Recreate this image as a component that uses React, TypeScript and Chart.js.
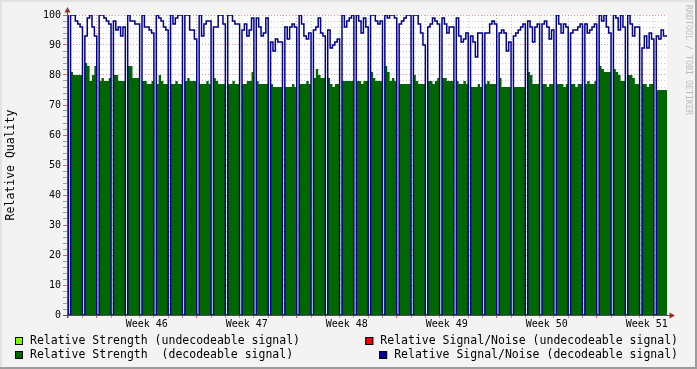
import React, { useEffect, useRef } from 'react';
import { Chart, registerables } from 'chart.js';

Chart.register(...registerables);

// ---- time axis (hours relative to Monday 00:00 of week 46) ----
const AXIS_START_HOUR = -50;
const AXIS_END_HOUR = 958;
const FIRST_SAMPLE_HOUR = -52;
const SAMPLE_HOURS = 4;

const weekLabels = ['Week 46', 'Week 47', 'Week 48', 'Week 49', 'Week 50', 'Week 51'];
const weekLabelHours = [84, 252, 420, 588, 756, 924];
const weekBoundaryHours = [0, 168, 336, 504, 672, 840];
const dayLineHours = [
  -48, -24, 0, 24, 48, 72, 96, 120, 144, 168, 192, 216, 240, 264, 288, 312, 336, 360, 384, 408, 432,
  456, 480, 504, 528, 552, 576, 600, 624, 648, 672, 696, 720, 744, 768, 792, 816, 840, 864, 888, 912, 936,
];

// ---- value axis ----
const yMin = 0;
const yMax = 100;
const yMinorStep = 2;
const yLabelStep = 10;

// ---- legend / series names ----
const seriesLabels = [
  'Relative Strength (undecodeable signal)',
  'Relative Strength  (decodeable signal)',
  'Relative Signal/Noise (undecodeable signal)',
  'Relative Signal/Noise (decodeable signal)',
];
const seriesColors = ['#80FF00', '#006600', '#FF0000', '#000099'];

// ---- data: 4-hour samples; first value is the partial sample before the first midnight,
// then one row per day: [midnight outage, 5 samples]
const strengthDecodeable = [
  80,
  0, 81, 80, 80, 80, 80,
  0, 84, 83, 78, 80, 83,
  0, 78, 79, 78, 78, 79,
  0, 80, 80, 78, 78, 78,
  0, 83, 83, 79, 79, 79,
  0, 78, 78, 77, 77, 78,
  0, 77, 80, 78, 77, 77,
  0, 77, 77, 78, 77, 77,
  0, 78, 79, 78, 78, 78,
  0, 77, 77, 77, 78, 77,
  0, 79, 78, 77, 77, 77,
  0, 77, 77, 78, 77, 77,
  0, 77, 77, 78, 78, 81,
  0, 78, 77, 77, 77, 77,
  0, 77, 76, 76, 76, 76,
  0, 76, 76, 76, 77, 76,
  0, 77, 77, 77, 78, 77,
  0, 79, 82, 80, 79, 79,
  0, 79, 77, 76, 77, 77,
  0, 78, 78, 78, 78, 78,
  0, 78, 78, 77, 78, 78,
  0, 81, 79, 78, 78, 78,
  0, 83, 81, 78, 79, 78,
  0, 77, 77, 77, 77, 77,
  0, 80, 78, 77, 77, 77,
  0, 78, 78, 77, 78, 79,
  0, 79, 79, 78, 78, 78,
  0, 78, 77, 77, 78, 77,
  0, 76, 76, 76, 77, 76,
  0, 77, 78, 77, 77, 77,
  0, 79, 76, 76, 76, 76,
  0, 76, 76, 76, 76, 76,
  0, 81, 80, 77, 77, 77,
  0, 77, 77, 76, 77, 77,
  0, 77, 77, 77, 76, 77,
  0, 77, 77, 76, 77, 77,
  0, 77, 78, 77, 77, 78,
  0, 83, 82, 81, 81, 81,
  0, 82, 81, 80, 78, 78,
  0, 80, 80, 79, 77, 77,
  0, 77, 77, 76, 77, 77,
  0, 75, 75, 75, 75, 75,
];

const snrDecodeable = [
  100,
  0, 100, 100, 98, 97, 96,
  0, 93, 99, 100, 96, 93,
  0, 100, 100, 99, 98, 97,
  0, 98, 95, 96, 93, 96,
  0, 100, 98, 98, 97, 97,
  0, 100, 96, 96, 95, 94,
  0, 100, 99, 98, 96, 95,
  0, 100, 97, 99, 100, 100,
  0, 100, 100, 95, 95, 92,
  0, 100, 93, 97, 98, 98,
  0, 96, 96, 100, 100, 97,
  0, 100, 100, 98, 97, 97,
  0, 95, 97, 93, 95, 99,
  0, 99, 96, 93, 94, 99,
  0, 91, 88, 92, 91, 91,
  0, 96, 92, 96, 97, 96,
  0, 100, 97, 93, 92, 94,
  0, 95, 96, 99, 94, 93,
  0, 95, 89, 90, 91, 92,
  0, 100, 96, 98, 99, 100,
  0, 100, 98, 94, 99, 96,
  0, 100, 100, 98, 97, 98,
  0, 100, 99, 100, 100, 99,
  0, 97, 98, 99, 100, 100,
  0, 100, 100, 97, 94, 90,
  0, 96, 97, 99, 98, 97,
  0, 99, 97, 94, 96, 96,
  0, 99, 93, 91, 92, 94,
  0, 93, 91, 86, 94, 94,
  0, 94, 94, 97, 98, 97,
  0, 94, 95, 94, 88, 91,
  0, 93, 94, 95, 96, 97,
  0, 98, 96, 91, 96, 97,
  0, 97, 98, 96, 92, 95,
  0, 100, 97, 94, 97, 96,
  0, 94, 95, 95, 96, 97,
  0, 97, 94, 95, 96, 97,
  0, 100, 98, 100, 96, 94,
  0, 100, 99, 95, 100, 96,
  0, 100, 97, 93, 96, 96,
  0, 89, 93, 89, 94, 92,
  0, 93, 92, 95, 93, 93,
];

const FONT = 'DejaVu Sans Mono';
const GRID_GRAY = 'rgba(140,140,140,0.45)';
const GRID_RED = 'rgba(222,48,48,0.5)';
const SNR_LINE = '#00008C';

function toSteps(values: number[]) {
  const pts = values.map((v, i) => ({ x: FIRST_SAMPLE_HOUR + i * SAMPLE_HOURS, y: v }));
  pts.push({ x: FIRST_SAMPLE_HOUR + values.length * SAMPLE_HOURS, y: values[values.length - 1] });
  return pts;
}

const rrdPlugin = {
  id: 'rrdDecor',
  beforeDraw(chart: any) {
    const { ctx, width, height, chartArea } = chart;
    ctx.save();
    ctx.fillStyle = '#F3F3F3';
    ctx.fillRect(0, 0, width, height);
    ctx.fillStyle = '#E2E2E2';
    ctx.fillRect(0, 0, width, 2);
    ctx.fillRect(0, 0, 2, height);
    ctx.fillStyle = '#9C9C9C';
    ctx.fillRect(0, height - 2, width, 2);
    ctx.fillRect(width - 2, 0, 2, height);
    ctx.fillStyle = '#FFFFFF';
    ctx.fillRect(chartArea.left, chartArea.top, chartArea.right - chartArea.left, chartArea.bottom - chartArea.top);
    ctx.restore();
  },
  afterDraw(chart: any) {
    const { ctx, chartArea } = chart;
    const { left, right, top, bottom } = chartArea;
    ctx.save();
    // axes
    ctx.strokeStyle = '#505050';
    ctx.lineWidth = 1;
    ctx.beginPath();
    ctx.moveTo(left - 4, bottom + 0.5);
    ctx.lineTo(right + 4, bottom + 0.5);
    ctx.moveTo(left + 0.5, bottom + 3);
    ctx.lineTo(left + 0.5, top - 4);
    ctx.stroke();
    // arrows
    ctx.fillStyle = '#9B2C2C';
    ctx.beginPath();
    ctx.moveTo(left + 0.5, top - 8);
    ctx.lineTo(left - 2.5, top - 2.5);
    ctx.lineTo(left + 3.5, top - 2.5);
    ctx.closePath();
    ctx.fill();
    ctx.beginPath();
    ctx.moveTo(right + 8, bottom + 0.5);
    ctx.lineTo(right + 2.5, bottom - 2.5);
    ctx.lineTo(right + 2.5, bottom + 3.5);
    ctx.closePath();
    ctx.fill();

    // legend
    ctx.font = `11.5px "${FONT}"`;
    ctx.textBaseline = 'middle';
    ctx.textAlign = 'left';
    const rows = [341, 355];
    const drawItem = (idx: number, swatchX: number, textX: number, y: number) => {
      ctx.fillStyle = seriesColors[idx];
      ctx.fillRect(swatchX, y - 4, 8, 8);
      ctx.strokeStyle = '#000';
      ctx.lineWidth = 1;
      ctx.strokeRect(swatchX + 0.5, y - 4 + 0.5, 7, 7);
      ctx.fillStyle = '#000';
      ctx.fillText(seriesLabels[idx], textX, y + 0.5);
    };
    drawItem(0, 15, 30, rows[0]);
    drawItem(1, 15, 30, rows[1]);
    const rightEdge = 678;
    [2, 3].forEach((idx, r) => {
      const w = ctx.measureText(seriesLabels[idx]).width;
      const tx = rightEdge - w;
      drawItem(idx, tx - 15, tx, rows[r]);
    });

    // watermark
    ctx.font = `8.3px "${FONT}"`;
    ctx.fillStyle = '#BDBDBD';
    ctx.translate(688.5, 60);
    ctx.rotate(Math.PI / 2);
    ctx.textAlign = 'center';
    ctx.textBaseline = 'middle';
    ctx.fillText('RRDTOOL / TOBI OETIKER', 0, 0);
    ctx.restore();
  },
};

export default function App() {
  const ref = useRef<HTMLCanvasElement | null>(null);

  useEffect(() => {
    if (!ref.current) return;
    const isLabelHour = (v: number) => weekLabelHours.indexOf(v) >= 0;
    const chart = new Chart(ref.current, {
      type: 'line',
      data: {
        datasets: [
          {
            label: seriesLabels[3],
            data: toSteps(snrDecodeable),
            stepped: true,
            borderColor: SNR_LINE,
            borderWidth: 1.5,
            pointRadius: 0,
            fill: false,
            order: 0,
          },
          {
            label: seriesLabels[1],
            data: toSteps(strengthDecodeable),
            stepped: true,
            borderColor: 'rgba(0,0,0,0)',
            borderWidth: 0,
            backgroundColor: seriesColors[1],
            pointRadius: 0,
            fill: 'origin',
            order: 1,
          },
          {
            label: seriesLabels[0],
            data: [],
            backgroundColor: seriesColors[0],
            borderColor: seriesColors[0],
            pointRadius: 0,
            order: 2,
          },
          {
            label: seriesLabels[2],
            data: [],
            backgroundColor: seriesColors[2],
            borderColor: seriesColors[2],
            pointRadius: 0,
            order: 3,
          },
        ],
      } as any,
      options: {
        animation: false,
        responsive: false,
        maintainAspectRatio: false,
        devicePixelRatio: 1,
        events: [],
        layout: { padding: { top: 15, right: 30, left: 0, bottom: 0 } },
        plugins: { legend: { display: false }, tooltip: { enabled: false } },
        scales: {
          x: {
            type: 'linear',
            min: AXIS_START_HOUR,
            max: AXIS_END_HOUR,
            z: 1,
            afterBuildTicks: (scale: any) => {
              scale.ticks = [...dayLineHours, ...weekLabelHours]
                .sort((a, b) => a - b)
                .map((v) => ({ value: v }));
            },
            afterFit: (scale: any) => {
              scale.height = 54;
            },
            ticks: {
              autoSkip: false,
              maxRotation: 0,
              minRotation: 0,
              padding: 0,
              color: '#000',
              font: { family: FONT, size: 10 },
              callback: (v: any) => {
                const i = weekLabelHours.indexOf(Number(v));
                return i >= 0 ? weekLabels[i] : '';
              },
            },
            grid: {
              lineWidth: 1,
              tickLength: 3,
              color: (c: any) => {
                const v = c.tick ? c.tick.value : null;
                if (v === null || isLabelHour(v)) return 'rgba(0,0,0,0)';
                return weekBoundaryHours.indexOf(v) >= 0 ? GRID_RED : GRID_GRAY;
              },
              tickColor: (c: any) => {
                const v = c.tick ? c.tick.value : null;
                if (v === null || isLabelHour(v)) return 'rgba(0,0,0,0)';
                return weekBoundaryHours.indexOf(v) >= 0 ? '#E06060' : '#A0A0A0';
              },
              borderDash: [1, 2],
            },
            border: { display: false, dash: [1, 2] },
          },
          y: {
            type: 'linear',
            min: yMin,
            max: yMax,
            z: 1,
            afterFit: (scale: any) => {
              scale.width = 67;
            },
            ticks: {
              stepSize: yMinorStep,
              autoSkip: false,
              padding: 2,
              color: '#000',
              font: { family: FONT, size: 10 },
              callback: (v: any) => (Number(v) % yLabelStep === 0 ? String(v) : ''),
            },
            grid: {
              lineWidth: 1,
              tickLength: 4,
              color: (c: any) => (c.tick && c.tick.value % yLabelStep === 0 ? GRID_RED : GRID_GRAY),
              tickColor: (c: any) => (c.tick && c.tick.value % yLabelStep === 0 ? '#E06060' : '#A0A0A0'),
              borderDash: [1, 2],
            },
            border: { display: false, dash: [1, 2] },
            title: {
              display: true,
              text: 'Relative Quality',
              color: '#000',
              font: { family: FONT, size: 11.5 },
              padding: { top: 4.5, bottom: 0 },
            },
          },
        },
      } as any,
      plugins: [rrdPlugin],
    });
    return () => chart.destroy();
  }, []);

  return (
    <div style={{ position: 'absolute', left: 0, top: 0, width: 697, height: 369 }}>
      <canvas ref={ref} width={697} height={369} style={{ display: 'block' }} />
    </div>
  );
}
